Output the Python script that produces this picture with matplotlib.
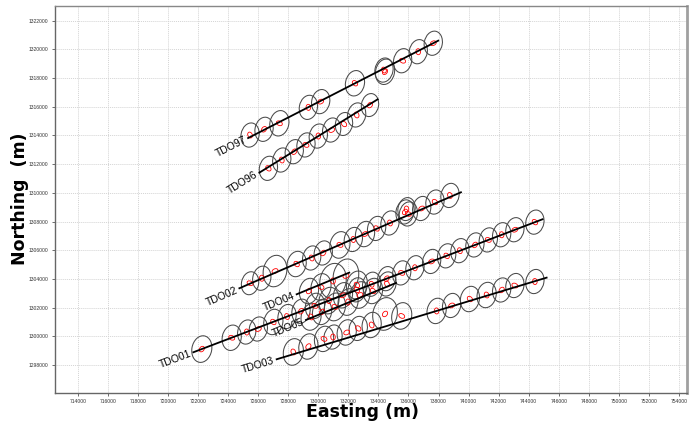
import numpy as np
import matplotlib.pyplot as plt
from matplotlib.patches import Ellipse

# survey lines: start / end (easting, northing)
line_names = ['TDO97', 'TDO96', 'TDO02', 'TDO04', 'TDO05', 'TDO01', 'TDO03']
line_e0 = [725330, 726080, 724750, 728560, 729180, 721690, 727230]
line_n0 = [1313820, 1311410, 1303350, 1302930, 1301140, 1298890, 1298400]
line_e1 = [737980, 733950, 739490, 732060, 735170, 744920, 745190]
line_n1 = [1320610, 1316520, 1310040, 1304440, 1303720, 1308160, 1304090]

# error ellipse centres along each line
tdo97_e = [725460, 726390, 727410, 729340, 730160, 732440, 734370, 734440, 735610, 736650, 737650]
tdo97_n = [1314030, 1314430, 1314850, 1315960, 1316360, 1317640, 1318560, 1318440, 1319210, 1319840, 1320430]
tdo97_s = [1.0, 1.0, 1.05, 1.0, 1.0, 1.05, 1.0, 1.05, 1.0, 1.0, 1.0]

tdo96_e = [726680, 727570, 728400, 729180, 730000, 730890, 731710, 732550, 733440]
tdo96_n = [1311710, 1312290, 1312870, 1313340, 1313960, 1314380, 1314800, 1315430, 1316120]
tdo96_s = [1.0, 1.0, 1.0, 1.0, 1.0, 1.0, 0.95, 1.0, 0.95]

tdo02_e = [725460, 726240, 727120, 728560, 729560, 730330, 731440, 732330, 733110,
           733880, 734770, 735770, 735990, 735870, 736880, 737760, 738760]
tdo02_n = [1303700, 1304050, 1304550, 1305040, 1305460, 1305810, 1306370, 1306750, 1307130,
           1307520, 1307900, 1308670, 1308530, 1308870, 1308910, 1309360, 1309820]
tdo02_s = [0.95, 1.0, 1.3, 1.05, 1.0, 1.0, 1.1, 1.0, 1.05, 1.0, 1.0, 1.0, 1.0, 0.95, 1.0, 1.0, 1.0]

tdo04_e = [729380, 730180, 730980, 731840, 732570]
tdo04_n = [1303160, 1303440, 1303860, 1304210, 1303580]
tdo04_s = [1.05, 1.1, 1.45, 1.4, 1.15]

tdo05_e = [729520, 730250, 731110, 731980, 732770, 733640, 734570]
tdo05_n = [1301350, 1301700, 1302050, 1302390, 1302880, 1303160, 1303650]
tdo05_s = [1.1, 1.05, 1.15, 1.1, 1.1, 1.05, 1.0]

tdo01_e = [722250, 724240, 725240, 726010, 727010, 727920, 728850, 729780, 730710, 731640,
           732570, 733550, 734550, 735550, 736430, 737540, 738540, 739420, 740420, 741310,
           742200, 743080, 744410]
tdo01_n = [1299110, 1299900, 1300300, 1300510, 1301000, 1301380, 1301750, 1302120, 1302490, 1302860,
           1303240, 1303630, 1304020, 1304420, 1304780, 1305220, 1305610, 1305970, 1306370, 1306720,
           1307080, 1307430, 1307960]
tdo01_s = [1.1, 1.05, 1.0, 1.0, 1.05, 1.0, 1.0, 1.05, 1.1, 1.05,
           1.0, 1.0, 1.0, 1.0, 1.0, 1.0, 1.0, 1.0, 1.0, 1.0,
           1.0, 1.0, 1.0]

tdo03_e = [728340, 729340, 730380, 730980, 731890, 732660, 733550, 734440, 735550, 737870,
           738870, 740090, 741200, 742200, 743080, 744410]
tdo03_n = [1298910, 1299290, 1299820, 1299950, 1300270, 1300550, 1300790, 1301560, 1301420, 1301770,
           1302150, 1302600, 1302880, 1303230, 1303540, 1303820]
tdo03_s = [1.1, 1.05, 1.05, 1.0, 1.05, 1.0, 1.05, 1.35, 1.1, 1.05,
           1.0, 1.05, 1.05, 1.0, 1.0, 1.0]

xticks = np.arange(714000, 754001, 2000)
yticks = np.arange(1298000, 1322001, 2000)

plt.rcParams['font.family'] = ['Liberation Sans', 'DejaVu Sans']

fig = plt.figure(figsize=(6.97, 4.34), dpi=100)
ax = fig.add_axes([0.0782, 0.0945, 0.9068, 0.8915])

ax.set_xlim(712450, 754500)
ax.set_ylim(1296050, 1323020)
ax.set_xticks(xticks)
ax.set_yticks(yticks)
ax.set_xticklabels([str(v) for v in xticks], fontsize=3.6, color='#333333')
ax.set_yticklabels([str(v) for v in yticks], fontsize=3.6, color='#333333')
ax.tick_params(direction='out', length=2.5, width=0.6, color='#555555', pad=2)
ax.grid(True, color='#d4d4d4', linestyle=(0, (1, 1)), linewidth=0.7)
ax.set_axisbelow(True)

for side in ['left', 'bottom']:
    ax.spines[side].set_color('#666666')
    ax.spines[side].set_linewidth(1.0)
ax.spines['top'].set_color('#888888')
ax.spines['top'].set_linewidth(1.0)
ax.spines['right'].set_color('#a0a0a0')
ax.spines['right'].set_linewidth(2.0)

ellipses = [
    (tdo97_e, tdo97_n, tdo97_s),
    (tdo96_e, tdo96_n, tdo96_s),
    (tdo02_e, tdo02_n, tdo02_s),
    (tdo04_e, tdo04_n, tdo04_s),
    (tdo05_e, tdo05_n, tdo05_s),
    (tdo01_e, tdo01_n, tdo01_s),
    (tdo03_e, tdo03_n, tdo03_s),
]

red_angles = [20, -35, 60, 5, -60, 40]
k = 0
for es, ns, ss in ellipses:
    for e, n, s in zip(es, ns, ss):
        ax.add_patch(Ellipse((e, n), 1200 * s, 1700 * s, angle=-10,
                             fill=False, edgecolor='#4a4a4a', linewidth=0.75, zorder=3))
        ax.add_patch(Ellipse((e, n), 300, 420, angle=red_angles[k % 6],
                             fill=False, edgecolor='red', linewidth=0.6, zorder=4))
        k += 1

for name, e0, n0, e1, n1 in zip(line_names, line_e0, line_n0, line_e1, line_n1):
    ax.plot([e0, e1], [n0, n1], color='black', linewidth=1.3, zorder=5)
    ang = np.degrees(np.arctan2(n1 - n0, e1 - e0))
    ax.text(e0 - 150, n0 - 100, name, fontsize=7.5, ha='right', va='center',
            rotation=ang, rotation_mode='anchor', transform_rotates_text=True, zorder=6)

fig.text(363 / 697, 1 - 412 / 434, 'Easting (m)', fontsize=12.5, fontweight='bold',
         family='DejaVu Sans', ha='center', va='center')
fig.text(20 / 697, 1 - 199 / 434, 'Northing  (m)', fontsize=12.5, fontweight='bold',
         family='DejaVu Sans', rotation=90, ha='center', va='center')

fig.savefig('out.png', dpi=100)
